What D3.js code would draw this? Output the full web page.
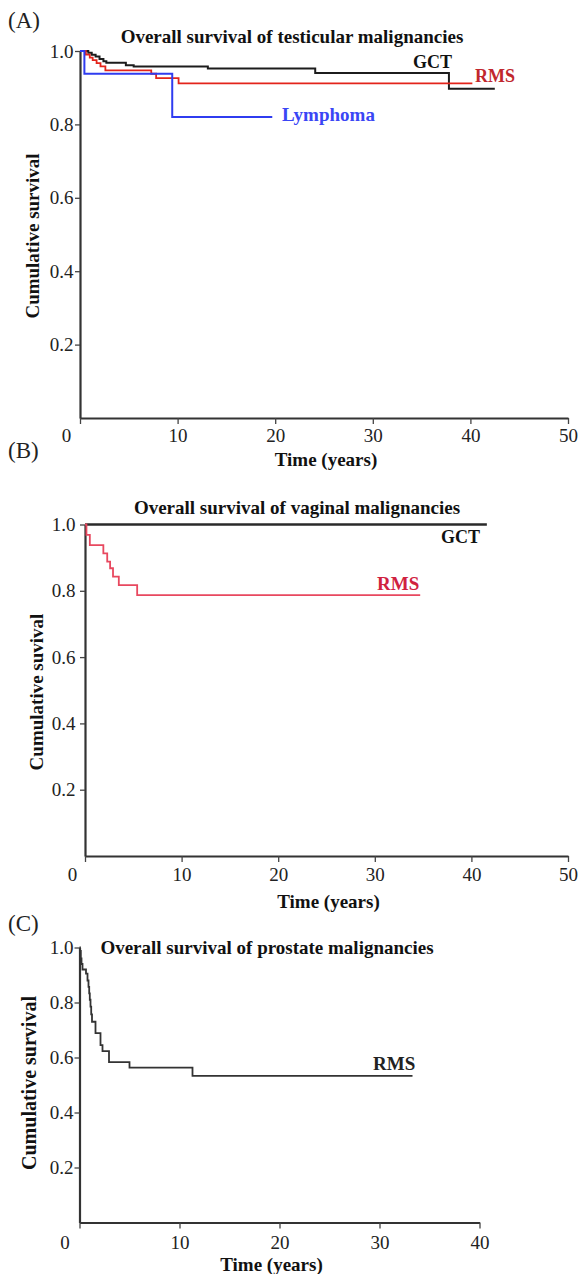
<!DOCTYPE html>
<html>
<head>
<meta charset="utf-8">
<script src="https://cdn.jsdelivr.net/npm/d3@7"></script>
<style>
  body { margin: 0; background: #fff; }
  svg { display: block; }
</style>
</head>
<body>
<div id="chart"></div>
<script>
(function () {

    var width = 578, height = 1274

    // tick values
    var yTicks = [0.2, 0.4, 0.6, 0.8, 1.0]
    var xTicks50 = [0, 10, 20, 30, 40, 50]
    var xTicks40 = [0, 10, 20, 30, 40]

    // [time (years), cumulative survival] - last pair is end of follow-up
    var testisGCT = [[0, 1], [0.85, 0.995], [1.2, 0.99], [1.6, 0.985], [2.0, 0.978], [2.4, 0.972],
        [2.7, 0.968], [4.7, 0.961], [5.5, 0.958], [13.1, 0.952], [24.1, 0.94], [37.8, 0.897], [42.5, 0.897]]
    var testisRMS = [[0, 1], [0.6, 0.99], [1.0, 0.982], [1.3, 0.975], [1.7, 0.967], [2.1, 0.958],
        [2.6, 0.947], [7.3, 0.938], [7.8, 0.926], [10.1, 0.912], [40.2, 0.912]]
    var testisLymphoma = [[0, 1], [0.45, 0.938], [9.45, 0.82], [19.7, 0.82]]

    var vaginaGCT = [[0, 1], [41.6, 1]]
    var vaginaRMS = [[0, 1], [0.15, 0.969], [0.5, 0.938], [1.9, 0.913], [2.3, 0.888], [2.6, 0.868],
        [2.9, 0.843], [3.5, 0.817], [5.4, 0.787], [34.7, 0.787]]

    var prostateRMS = [[0, 1], [0.05, 0.988], [0.13, 0.96], [0.2, 0.94], [0.3, 0.92], [0.65, 0.905],
        [0.8, 0.88], [0.9, 0.857], [0.97, 0.833], [1.03, 0.81], [1.1, 0.785], [1.17, 0.757],
        [1.25, 0.73], [1.6, 0.689], [2.1, 0.645], [2.3, 0.623], [2.95, 0.583], [5.0, 0.563],
        [11.3, 0.533], [33.3, 0.533]]

    var panels = [
        {
            tag: '(A)', tagY: 28,
            title: 'Overall survival of testicular malignancies', titleX: 292, titleY: 43,
            ylabel: 'Cumulative survival', ylabX: 39, ylabY: 236, ylabSize: 19,
            left: 80, right: 568, top: 51, bottom: 418, xMax: 50, xTicks: xTicks50,
            xPad: 4.5, yPad: 1.5, zeroDx: -14, xlabY: 466,
            series: [
                { data: testisGCT, color: '#1c1c1c', w: 2 },
                { data: testisRMS, color: '#e3241b', w: 1.8 },
                { data: testisLymphoma, color: '#2f3cf0', w: 2 }
            ],
            labels: [
                { text: 'GCT', x: 413, y: 68, color: '#111', size: 18 },
                { text: 'RMS', x: 475, y: 82, color: '#c1272d', size: 18 },
                { text: 'Lymphoma', x: 282, y: 121, color: '#3a46f5', size: 19 }
            ]
        },
        {
            tag: '(B)', tagY: 458,
            title: 'Overall survival of vaginal malignancies', titleX: 297, titleY: 514,
            ylabel: 'Cumulative suvival', ylabX: 43, ylabY: 692, ylabSize: 19,
            left: 85, right: 568, top: 524.5, bottom: 856, xMax: 50, xTicks: xTicks50,
            xPad: 5.5, yPad: 4.5, zeroDx: -13, xlabY: 908,
            series: [
                { data: vaginaGCT, color: '#2a2a2a', w: 2.5 },
                { data: vaginaRMS, color: '#e8485f', w: 1.8 }
            ],
            labels: [
                { text: 'GCT', x: 441, y: 543, color: '#111', size: 18 },
                { text: 'RMS', x: 377, y: 590, color: '#d0223f', size: 19 }
            ]
        },
        {
            tag: '(C)', tagY: 931,
            title: 'Overall survival of prostate malignancies', titleX: 267, titleY: 954,
            ylabel: 'Cumulative survival', ylabX: 36, ylabY: 1083, ylabSize: 20,
            left: 79.5, right: 479.5, top: 947.5, bottom: 1222.5, xMax: 40, xTicks: xTicks40,
            xPad: 7.5, yPad: 1, zeroDx: -15, xlabY: 1271,
            series: [
                { data: prostateRMS, color: '#333', w: 1.8 }
            ],
            labels: [
                { text: 'RMS', x: 373, y: 1070, color: '#222', size: 19 }
            ]
        }
    ]

    var svg = d3.select('#chart')
        .append('svg')
        .attr('width', width)
        .attr('height', height)
        .style('font-family', '"Liberation Serif", "Times New Roman", serif')

    panels.forEach(function (p) {
        var x = d3.scaleLinear().domain([0, p.xMax]).range([p.left, p.right])
        var y = d3.scaleLinear().domain([0, 1]).range([p.bottom, p.top])

        var g = svg.append('g')

        g.append('text')
            .attr('x', 8)
            .attr('y', p.tagY)
            .attr('font-size', 23)
            .attr('fill', '#222')
            .text(p.tag)

        g.append('text')
            .attr('x', p.titleX)
            .attr('y', p.titleY)
            .attr('text-anchor', 'middle')
            .attr('font-size', 19)
            .attr('font-weight', 'bold')
            .attr('fill', '#111')
            .text(p.title)

        var yAxis = g.append('g')
            .attr('transform', 'translate(' + p.left + ',0)')
            .call(d3.axisLeft(y).tickValues(yTicks).tickFormat(d3.format('.1f'))
                .tickSize(5).tickSizeOuter(0).tickPadding(p.yPad))

        var xAxis = g.append('g')
            .attr('transform', 'translate(0,' + p.bottom + ')')
            .call(d3.axisBottom(x).tickValues(p.xTicks).tickFormat(d3.format('d'))
                .tickSize(6).tickSizeOuter(0).tickPadding(p.xPad))

        ;[yAxis, xAxis].forEach(function (ax) {
            ax.attr('font-family', null).attr('font-size', 19)
            ax.select('.domain').attr('stroke', '#333').attr('stroke-width', 2.2)
            ax.selectAll('.tick line').attr('stroke', '#444').attr('stroke-width', 1.3)
            ax.selectAll('.tick text').attr('fill', '#222')
        })

        // the origin label sits left of the corner
        xAxis.selectAll('.tick').filter(function (d) { return d === 0 })
            .select('text').attr('dx', p.zeroDx)

        g.append('text')
            .attr('x', (p.left + p.right) / 2 + (p.xMax === 40 ? -8 : 2))
            .attr('y', p.xlabY)
            .attr('text-anchor', 'middle')
            .attr('font-size', 19)
            .attr('font-weight', 'bold')
            .attr('fill', '#111')
            .text('Time (years)')

        g.append('text')
            .attr('transform', 'translate(' + p.ylabX + ',' + p.ylabY + ') rotate(-90)')
            .attr('text-anchor', 'middle')
            .attr('font-size', p.ylabSize)
            .attr('font-weight', 'bold')
            .attr('fill', '#111')
            .text(p.ylabel)

        var line = d3.line()
            .x(function (d) { return x(d[0]) })
            .y(function (d) { return y(d[1]) })
            .curve(d3.curveStepAfter)

        g.selectAll('.km')
            .data(p.series)
            .enter().append('path')
            .attr('class', 'km')
            .attr('fill', 'none')
            .attr('stroke', function (d) { return d.color })
            .attr('stroke-width', function (d) { return d.w })
            .attr('d', function (d) { return line(d.data) })

        g.selectAll('.lab')
            .data(p.labels)
            .enter().append('text')
            .attr('class', 'lab')
            .attr('x', function (d) { return d.x })
            .attr('y', function (d) { return d.y })
            .attr('font-size', function (d) { return d.size })
            .attr('font-weight', 'bold')
            .attr('fill', function (d) { return d.color })
            .text(function (d) { return d.text })
    })

})()
</script>
</body>
</html>
